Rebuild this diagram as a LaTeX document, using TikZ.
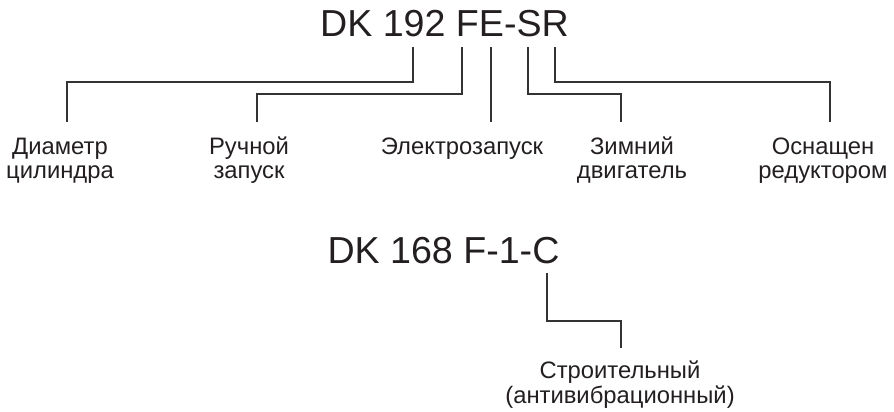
\documentclass[tikz,border=0pt]{standalone}
\usepackage{fontspec}
\setmainfont{Liberation Sans}
\definecolor{ink}{HTML}{231F20}
\definecolor{wire}{HTML}{333333}
\begin{document}
\begin{tikzpicture}[x=1pt,y=-1pt,
  title/.style={font=\fontsize{37.6}{40}\selectfont, text=ink, inner sep=0pt, anchor=base},
  lbl/.style={font=\fontsize{23.8}{24.5}\selectfont, text=ink, inner sep=0pt, anchor=base, align=center},
  wireline/.style={draw=wire, line width=1.1pt}]
\useasboundingbox (0,0) rectangle (894,412);
% titles
\node[title] (t1) at (444.5,37) {DK 192 FE-SR};
\node[title] (t2) at (443.5,263) {DK 168 F-1-C};
% labels (base anchor = baseline of last line)
\node[lbl] (l1) at (60,178.5) {Диаметр\\цилиндра};
\node[lbl] (l2) at (249,178.5) {Ручной\\запуск};
\node[lbl] (l3) at (462,154) {Электрозапуск};
\node[lbl] (l4) at (632,178.5) {Зимний\\двигатель};
\node[lbl] (l5) at (823,178.5) {Оснащен\\редуктором};
\node[lbl] (l6) at (620,403) {Строительный\\(антивибрационный)};
% connector ends
\coordinate (a1) at (413,47);  \coordinate (k1) at (67,82);  \coordinate (e1) at (67,122);
\coordinate (a2) at (462,47);  \coordinate (k2) at (257,94); \coordinate (e2) at (257,122);
\coordinate (a3) at (491,47);  \coordinate (e3) at (491,122);
\coordinate (a4) at (528,47);  \coordinate (k4) at (621,94); \coordinate (e4) at (621,122);
\coordinate (a5) at (555,47);  \coordinate (k5) at (830,82); \coordinate (e5) at (830,122);
\coordinate (a6) at (547,273); \coordinate (k6) at (621,321); \coordinate (e6) at (621,348);
% connectors
\draw[wireline] (a1) |- (k1) -- (e1);
\draw[wireline] (a2) |- (k2) -- (e2);
\draw[wireline] (a3) -- (e3);
\draw[wireline] (a4) |- (k4) -- (e4);
\draw[wireline] (a5) |- (k5) -- (e5);
\draw[wireline] (a6) |- (k6) -- (e6);
\end{tikzpicture}
\end{document}
